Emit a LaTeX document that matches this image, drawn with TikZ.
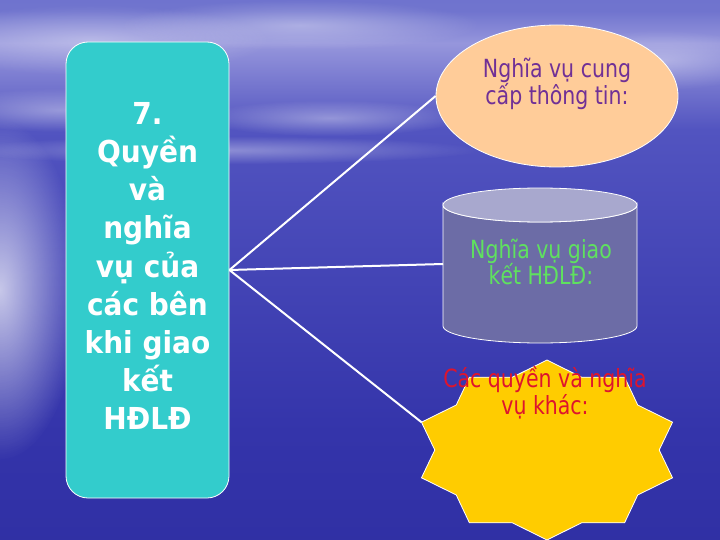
\documentclass[tikz,border=0pt]{standalone}
\usepackage{fontspec}
\setmainfont{DejaVu Sans}
\usetikzlibrary{shapes.geometric,fadings}

\definecolor{boxteal}{RGB}{51,204,204}
\definecolor{peach}{RGB}{255,204,153}
\definecolor{cylbody}{RGB}{108,108,166}
\definecolor{cyltop}{RGB}{168,168,206}
\definecolor{gold}{RGB}{255,204,0}
\definecolor{txtpurple}{RGB}{112,48,150}
\definecolor{txtgreen}{RGB}{95,225,95}
\definecolor{txtred}{RGB}{222,20,45}
\definecolor{seaA}{RGB}{38,38,150}
\definecolor{seaB}{RGB}{52,52,170}
\definecolor{seaC}{RGB}{82,84,192}
\definecolor{horizon}{RGB}{150,150,220}
\definecolor{skyA}{RGB}{112,116,206}
\definecolor{skyB}{RGB}{92,98,200}
\pgfdeclareverticalshading{seasky}{100bp}{%
  color(0bp)=(seaA); color(35bp)=(seaB); color(63bp)=(seaC);
  color(71bp)=(horizon); color(74bp)=(skyA); color(100bp)=(skyB)}
\tikzfading[name=soft blob,inner color=transparent!0,outer color=transparent!100]

\begin{document}
\begin{tikzpicture}%
  [x=1pt,y=-1pt,
   link/.style={draw=white,line width=2pt}]
  \tikzstyle{box node}=[rectangle,rounded corners=22pt,fill=boxteal,draw=white,line width=0.8pt,minimum width=163pt,minimum height=456pt,inner sep=0]
  \tikzstyle{oval node}=[ellipse,fill=peach,draw=white,line width=0.8pt,minimum width=242pt,minimum height=142pt,inner sep=0]
  \tikzstyle{label node}=[align=center,inner sep=0,yscale=1.22,transform shape,font=\fontsize{20.5}{22}\selectfont]
  % sky and sea
  \shade[shading=seasky] (0,0) rectangle (720,540);
  \useasboundingbox (0,0) rectangle (720,540);
  \foreach \cx/\cy/\rx/\ry in {90/40/180/35, 300/25/180/25, 60/110/120/22, 330/118/130/18, 660/60/110/30, 220/150/260/14}
    \fill[white,opacity=0.35,path fading=soft blob] (\cx,\cy) ellipse [x radius=\rx,y radius=\ry];
  \fill[white,opacity=0.7,path fading=soft blob] (0,290) ellipse [x radius=80,y radius=170];

  % left box
  \node(rights)[box node] at (147.5,270) {};
  \node(rights-text)[align=center,inner sep=0,text=white,yscale=1.08,transform shape,
    font=\bfseries\fontsize{28}{35.4}\selectfont] at (147.5,266)
    {7.\\Quyền\\và\\nghĩa\\vụ của\\các bên\\khi giao\\kết\\HĐLĐ};

  % first duty
  \node(duty1)[oval node] at (557,96) {};
  \node(duty1-text)[label node,text=txtpurple] at (557,84) {Nghĩa vụ cung\\cấp thông tin:};

  % second duty (cylinder)
  \draw[fill=cylbody,draw=white,line width=0.8pt] (443,205) -- (443,326)
    arc[start angle=180,end angle=0,x radius=97,y radius=17] -- (637,205)
    arc[start angle=0,end angle=180,x radius=97,y radius=17] -- cycle;
  \draw[fill=cyltop,draw=white,line width=0.8pt] (540,205) ellipse [x radius=97,y radius=17];
  \coordinate(cyl-w) at (443,264);
  \node(duty2-text)[label node,text=txtgreen] at (541,262) {Nghĩa vụ giao\\kết HĐLĐ:};

  % other rights (star)
  \begin{scope}[shift={(547,450)}]
    \draw[fill=gold,draw=white,line width=0.8pt] (90:132 and 90)
      \foreach \k [evaluate=\k as \rr using {1-0.15*mod(\k,2)}] in {1,...,19}
        { -- ({90+18*\k}:{132*\rr} and {90*\rr}) } -- cycle;
    \coordinate(burst-w) at (198:132 and 90);
  \end{scope}
  \node(duty3-text)[label node,text=txtred] at (545,393) {Các quyền và nghĩa\\vụ khác:};

  % connectors
  \draw[link] (rights.east) -- (duty1.west);
  \draw[link] (rights.east) -- (cyl-w);
  \draw[link] (rights.east) -- (burst-w);
\end{tikzpicture}
\end{document}
